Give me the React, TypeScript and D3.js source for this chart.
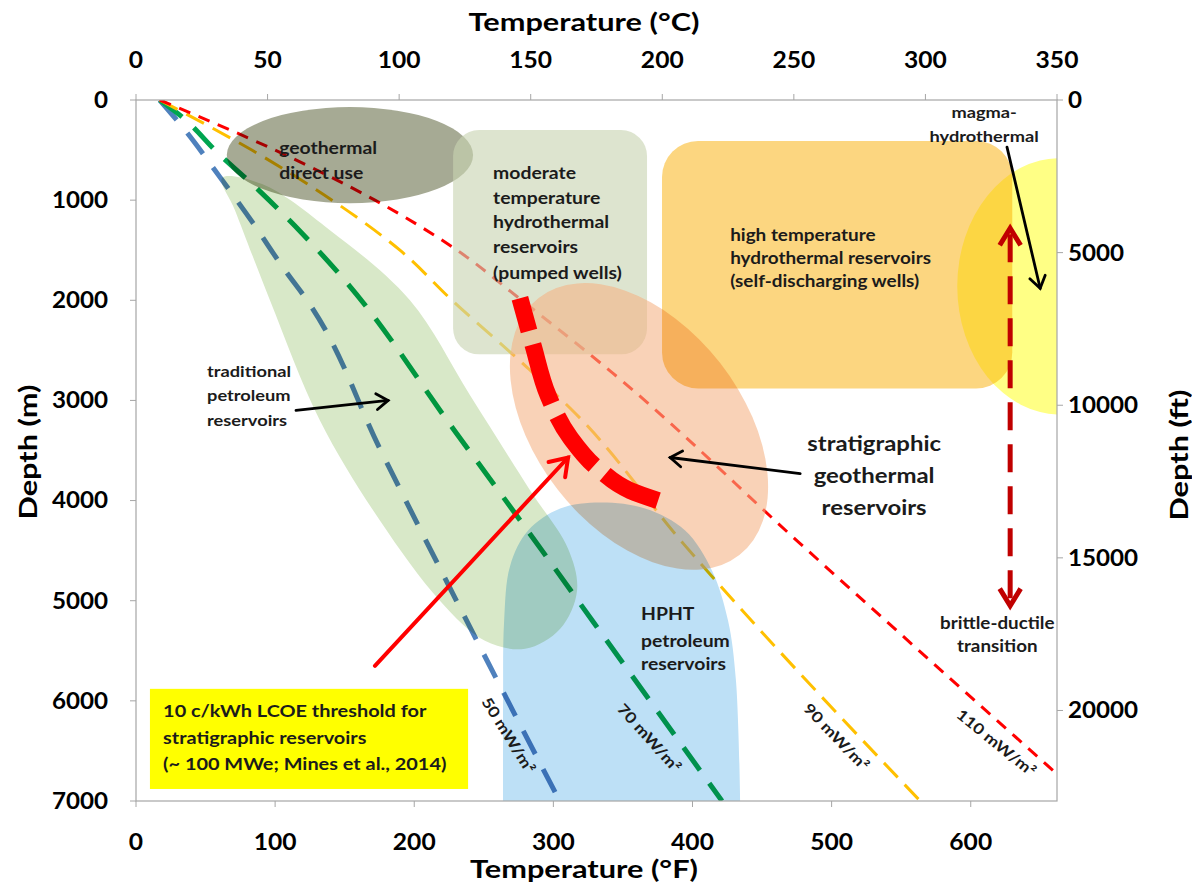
import React from 'react';
import * as d3 from 'd3';

const W = 1192;
const H = 882;
const FONT = "Lato, 'Open Sans', sans-serif";

// ---------- axis ticks ----------
const tempCTicks = [0, 50, 100, 150, 200, 250, 300, 350];
const tempFTicks = [0, 100, 200, 300, 400, 500, 600];
const depthMTicks = [0, 1000, 2000, 3000, 4000, 5000, 6000, 7000];
const depthFtTicks = [0, 5000, 10000, 15000, 20000];

// ---------- geotherms: [temperature °C, depth m] ----------
const geo50: [number, number][] = [[9, 0], [18.6, 300], [31.9, 770], [44.5, 1230], [56.6, 1700], [65, 2000], [93, 3500], [131.5, 5500], [161, 7000]];
const geo70: [number, number][] = [[9, 0], [18, 180], [30.4, 510], [47, 910], [62.7, 1320], [78, 1760], [121, 3300], [148, 4270], [174, 5220], [222.7, 7000]];
const geo90: [number, number][] = [[9, 0], [44, 500], [74.5, 1000], [100.3, 1500], [120.1, 2000], [148.6, 2670], [167, 3130], [208, 4430], [298, 7000]];
const geo110: [number, number][] = [[9, 0], [52.8, 500], [90.8, 1000], [122, 1500], [145.6, 1980], [181.3, 2730], [252.4, 4430], [350, 6730]];

// stratigraphic reservoir (thick red dashed) curve
const stratCurve: [number, number][] = [[145.9, 1980], [150.9, 2450], [156.6, 2950], [165, 3370], [176.4, 3700], [187.8, 3900], [198.4, 4000]];

// regions
const petroleumRegion: [number, number][] = [[32.7, 780], [47.9, 840], [73.7, 1300], [104.1, 2000], [127, 2950], [149.8, 3900], [164.2, 4480], [167.6, 4900], [161.2, 5280], [147.9, 5480], [132.6, 5400], [115.5, 5000], [92.7, 4200], [69.9, 3200], [50.9, 2000], [37.6, 1100]];
const hphtRegion: [number, number][] = [[139.5, 7000], [139.5, 6000], [139.9, 5200], [142.2, 4650], [149, 4300], [161.2, 4080], [176.4, 4020], [193.5, 4080], [208.7, 4300], [218.9, 4700], [225, 5200], [228, 5800], [229.6, 7000]];

const curves = [
  { data: geo50, color: '#4f81bd', width: 5, dash: '26 17' },
  { data: geo70, color: '#00a550', width: 5, dash: '28 16' },
  { data: geo90, color: '#ffc000', width: 3, dash: '20 10' },
  { data: geo110, color: '#ff0000', width: 3, dash: '12 9' },
];

const lineLabels = [
  { text: '50 mW/m²', t: 141, d: 6350, angle: 58 },
  { text: '70 mW/m²', t: 194.6, d: 6380, angle: 48 },
  { text: '90 mW/m²', t: 265.7, d: 6370, angle: 46 },
  { text: '110 mW/m²', t: 326.5, d: 6430, angle: 39 },
];

const textBlocks = [
  { lines: ['geothermal', 'direct use'], t: 54.4, d: [540, 790], size: 17, anchor: 'start' },
  { lines: ['moderate', 'temperature', 'hydrothermal', 'reservoirs', '(pumped wells)'], t: 135.7, d: [790, 1040, 1280, 1530, 1790], size: 17, anchor: 'start' },
  { lines: ['high temperature', 'hydrothermal reservoirs', '(self-discharging wells)'], t: 225.8, d: [1410, 1640, 1870], size: 16.6, anchor: 'start' },
  { lines: ['traditional', 'petroleum', 'reservoirs'], t: 27, d: [2770, 3010, 3260], size: 16, anchor: 'start' },
  { lines: ['stratigraphic', 'geothermal', 'reservoirs'], t: 280.5, d: [3500, 3820, 4140], size: 21, anchor: 'middle' },
  { lines: ['HPHT', 'petroleum', 'reservoirs'], t: 191.9, d: [5190, 5460, 5690], size: 17, anchor: 'start' },
  { lines: ['magma-', 'hydrothermal'], t: 322.3, d: [180, 420], size: 16, anchor: 'middle' },
  { lines: ['brittle-ductile', 'transition'], t: 327.3, d: [5280, 5510], size: 16.5, anchor: 'middle' },
];

const boxLines = ['10 c/kWh LCOE threshold for', 'stratigraphic reservoirs', '(~ 100 MWe; Mines et al., 2014)'];
const boxLineDepths = [6160, 6430, 6690];

function chevron(x1: number, y1: number, x2: number, y2: number, len: number, ang: number) {
  const a = Math.atan2(y2 - y1, x2 - x1);
  const p1 = [x2 - len * Math.cos(a - ang), y2 - len * Math.sin(a - ang)];
  const p2 = [x2 - len * Math.cos(a + ang), y2 - len * Math.sin(a + ang)];
  return `M${p1[0]},${p1[1]}L${x2},${y2}L${p2[0]},${p2[1]}`;
}

function SText(props: { x: number; y: number; sx?: number; size: number; anchor?: string; rotate?: number; dy?: string; baseline?: string; fill?: string; children: React.ReactNode }) {
  const { x, y, sx = 1.15, size, anchor = 'start', rotate, dy, baseline, fill = '#1b1b1b', children } = props;
  const tr = `translate(${x},${y})${rotate !== undefined ? ` rotate(${rotate})` : ''} scale(${sx},1)`;
  return (
    <text transform={tr} dy={dy} textAnchor={anchor as any} dominantBaseline={baseline as any} fontSize={size} fontWeight={700} fill={fill}>
      {children}
    </text>
  );
}

export default function App() {
  const x = d3.scaleLinear().domain([0, 350]).range([136, 1057]);
  const xF = d3.scaleLinear().domain([0, 662]).range([136, 1057]);
  const y = d3.scaleLinear().domain([0, 7000]).range([100, 801]);
  const yFt = d3.scaleLinear().domain([0, 7000 / 0.3048]).range([100, 801]);
  const [x0, x1] = x.range();
  const [y0, y1] = y.range();

  const geoLine = d3.line<[number, number]>().x(d => x(d[0])).y(d => y(d[1])).curve(d3.curveMonotoneY);
  const closedLine = d3.line<[number, number]>().x(d => x(d[0])).y(d => y(d[1])).curve(d3.curveCatmullRomClosed.alpha(0.5));
  const openLine = d3.line<[number, number]>().x(d => x(d[0])).y(d => y(d[1])).curve(d3.curveCatmullRom.alpha(0.5));

  const hphtPath = openLine(hphtRegion) + 'Z';

  // annotation geometry (data units)
  const ell = { t: 81.3, d: 550, rt: 46.8, rd: 480 };
  const modRect = { t0: 120.5, t1: 194.2, d0: 300, d1: 2540 };
  const hiRect = { t0: 199.9, t1: 333, d0: 410, d1: 2880 };
  const magma = { t: 351.2, d: 1860, rt: 39.1, rd: 1280 };
  const peachA: [number, number] = [153, 1976];
  const peachB: [number, number] = [229.3, 4544];
  const peachMinor = 103;
  const yBox = { t0: 5.3, t1: 126.2, d0: 5880, d1: 6880 };

  const pax = x(peachA[0]), pay = y(peachA[1]), pbx = x(peachB[0]), pby = y(peachB[1]);
  const pcx = (pax + pbx) / 2, pcy = (pay + pby) / 2;
  const prx = Math.hypot(pbx - pax, pby - pay) / 2;
  const pang = (Math.atan2(pby - pay, pbx - pax) * 180) / Math.PI;

  const arrows = [
    { from: [60.8, 3100], to: [95.8, 3000], color: '#000', w: 2.8, head: 14 },
    { from: [252.4, 3730], to: [203, 3570], color: '#000', w: 2.8, head: 14 },
    { from: [331, 470], to: [343.6, 1880], color: '#000', w: 2.8, head: 14 },
    { from: [90.8, 5650], to: [164.2, 3570], color: '#ff0000', w: 4, head: 20 },
  ];

  const bd = { t: 332.2, d0: 1280, d1: 5050 };
  const bx = x(bd.t), by0 = y(bd.d0), by1 = y(bd.d1);

  const mb: React.CSSProperties = { mixBlendMode: 'multiply' };

  return (
    <svg width={W} height={H} style={{ position: 'absolute', left: 0, top: 0, fontFamily: FONT }}>
      <rect x={0} y={0} width={W} height={H} fill="#fff" />
      <defs>
        <clipPath id="plotClip">
          <rect x={x0} y={y0} width={x1 - x0} height={y1 - y0} />
        </clipPath>
      </defs>

      <g clipPath="url(#plotClip)">
        {curves.map((c, i) => (
          <path key={i} d={geoLine(c.data) || ''} fill="none" stroke={c.color} strokeWidth={c.width} strokeDasharray={c.dash} />
        ))}

        <path d={closedLine(petroleumRegion) || ''} fill="#d8e8c8" style={mb} />
        <ellipse cx={x(ell.t)} cy={y(ell.d)} rx={x(ell.t + ell.rt) - x(ell.t)} ry={y(ell.d + ell.rd) - y(ell.d)} fill="#a6aa94" style={mb} />
        <rect x={x(modRect.t0)} y={y(modRect.d0)} width={x(modRect.t1) - x(modRect.t0)} height={y(modRect.d1) - y(modRect.d0)} rx={26} fill="#c8d4b2" opacity={0.62} />
        <ellipse cx={pcx} cy={pcy} rx={prx} ry={peachMinor} transform={`rotate(${pang} ${pcx} ${pcy})`} fill="#f4b183" opacity={0.58} />
        <path d={hphtPath} fill="#bde0f6" style={mb} />
        <rect x={x(hiRect.t0)} y={y(hiRect.d0)} width={x(hiRect.t1) - x(hiRect.t0)} height={y(hiRect.d1) - y(hiRect.d0)} rx={36} fill="#fcd680" style={mb} />
        <ellipse cx={x(magma.t)} cy={y(magma.d)} rx={x(magma.t + magma.rt) - x(magma.t)} ry={y(magma.d + magma.rd) - y(magma.d)} fill="#ffff85" style={mb} />

        <path d={geoLine(stratCurve) || ''} fill="none" stroke="#ff0000" strokeWidth={17} strokeDasharray="62 14" strokeDashoffset={28} />
      </g>

      {/* yellow threshold box */}
      <rect x={x(yBox.t0)} y={y(yBox.d0)} width={x(yBox.t1) - x(yBox.t0)} height={y(yBox.d1) - y(yBox.d0)} fill="#ffff00" />
      {boxLines.map((l, i) => (
        <SText key={i} x={x(10.3)} y={y(boxLineDepths[i])} size={17} sx={1.17}>{l}</SText>
      ))}

      {/* arrows */}
      {arrows.map((a, i) => {
        const ax1 = x(a.from[0]), ay1 = y(a.from[1]), ax2 = x(a.to[0]), ay2 = y(a.to[1]);
        return (
          <g key={i} stroke={a.color} strokeWidth={a.w} fill="none" strokeLinecap="round" strokeLinejoin="miter">
            <line x1={ax1} y1={ay1} x2={ax2} y2={ay2} />
            <path d={chevron(ax1, ay1, ax2, ay2, a.head, 0.6)} />
          </g>
        );
      })}
      <g stroke="#c00000" fill="none">
        <line x1={bx} y1={by0 + 6} x2={bx} y2={by1 - 6} strokeWidth={5} strokeDasharray="28 14" />
        <path d={chevron(bx, by1, bx, by0, 20, 0.55)} strokeWidth={5} />
        <path d={chevron(bx, by0, bx, by1, 20, 0.55)} strokeWidth={5} />
      </g>

      {/* region labels */}
      {textBlocks.map((b, i) => (
        <g key={i}>
          {b.lines.map((l, j) => (
            <SText key={j} x={x(b.t)} y={y(b.d[j])} size={b.size} anchor={b.anchor} sx={1.14}>{l}</SText>
          ))}
        </g>
      ))}

      {/* geotherm labels */}
      {lineLabels.map((l, i) => (
        <SText key={i} x={x(l.t)} y={y(l.d)} rotate={l.angle} anchor="middle" baseline="middle" size={15} sx={1.2}>{l.text}</SText>
      ))}

      {/* frame */}
      <rect x={x0} y={y0} width={x1 - x0} height={y1 - y0} fill="none" stroke="#a6a6a6" strokeWidth={1.2} />

      {/* top axis °C */}
      {tempCTicks.map(t => (
        <g key={'c' + t}>
          <line x1={x(t)} x2={x(t)} y1={y0} y2={y0 - 6} stroke="#a6a6a6" />
          <SText x={x(t)} y={68} anchor="middle" size={22} sx={1.12} fill="#000">{t}</SText>
        </g>
      ))}
      {/* bottom axis °F */}
      {tempFTicks.map(t => (
        <g key={'f' + t}>
          <line x1={xF(t)} x2={xF(t)} y1={y1} y2={y1 + 6} stroke="#a6a6a6" />
          <SText x={xF(t)} y={850} anchor="middle" size={22} sx={1.12} fill="#000">{t}</SText>
        </g>
      ))}
      {/* left axis m */}
      {depthMTicks.map(t => (
        <g key={'m' + t}>
          <line x1={x0} x2={x0 - 6} y1={y(t)} y2={y(t)} stroke="#a6a6a6" />
          <SText x={108} y={y(t)} dy="0.36em" anchor="end" size={22} sx={1.1} fill="#000">{t}</SText>
        </g>
      ))}
      {/* right axis ft */}
      {depthFtTicks.map(t => (
        <g key={'ft' + t}>
          <line x1={x1} x2={x1 + 6} y1={yFt(t)} y2={yFt(t)} stroke="#a6a6a6" />
          <SText x={1068} y={yFt(t)} dy="0.36em" anchor="start" size={22} sx={1.1} fill="#000">{t}</SText>
        </g>
      ))}

      {/* axis titles */}
      <SText x={584} y={31} anchor="middle" size={24} sx={1.28} fill="#000">Temperature (°C)</SText>
      <SText x={584} y={878} anchor="middle" size={24} sx={1.28} fill="#000">Temperature (°F)</SText>
      <SText x={37} y={452} rotate={-90} anchor="middle" size={24} sx={1.28} fill="#000">Depth (m)</SText>
      <SText x={1188} y={455} rotate={-90} anchor="middle" size={24} sx={1.28} fill="#000">Depth (ft)</SText>
    </svg>
  );
}
